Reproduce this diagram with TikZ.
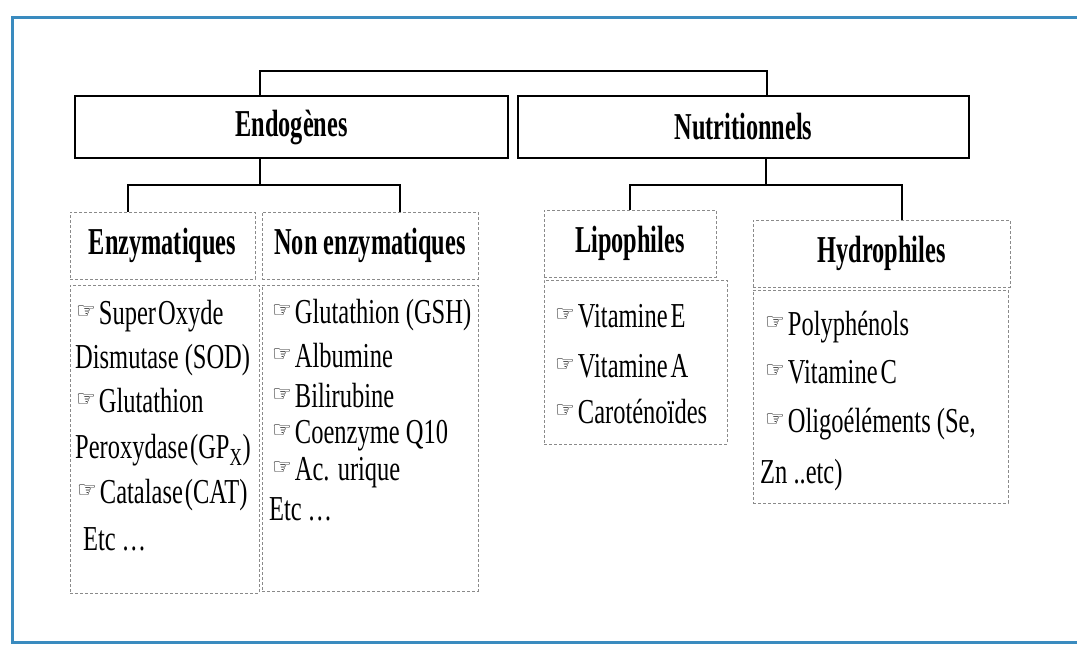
\documentclass[tikz,border=0pt]{standalone}
\usepackage{fontspec}
\setmainfont[FakeStretch=0.70]{Liberation Serif}
\newfontfamily\headfont[FakeStretch=0.64]{Liberation Serif}
\newfontfamily\handfont{DejaVu Sans}
\usetikzlibrary{positioning,calc}
\definecolor{framebl}{HTML}{3A8BBF}
\definecolor{dashgr}{HTML}{8A8A8A}
\newcommand{\itm}{\raisebox{6pt}{\handfont\bfseries\fontsize{22}{22}\selectfont ☞}\hspace{3pt}}
\tikzset{
	mainbox/.style={draw, line width=1.6pt, inner sep=0pt, minimum height=62pt,
		font=\headfont\bfseries\fontsize{38}{40}\selectfont},
	subhead/.style={draw=dashgr, densely dashed, line width=0.8pt, inner sep=0pt,
		minimum height=67pt, font=\headfont\bfseries\fontsize{38}{40}\selectfont},
	listbox/.style={draw=dashgr, densely dashed, line width=0.8pt, inner sep=0pt},
	item/.style={anchor=base west, inner sep=0pt, font=\fontsize{35}{44}\selectfont},
	link/.style={line width=1.3pt},
	frameline/.style={draw=framebl, line width=3pt}
}
\begin{document}
\begin{tikzpicture}[x=1pt, y=-1pt]
	\useasboundingbox (0,0) rectangle (1077,645);
	\draw[frameline] (1077,17) -| (12,642) -- (1077,642);
	
	% first level
	\node[mainbox, minimum width=433pt] (endo) at (291.5,127) {Endogènes};
	\node[mainbox, minimum width=451pt] (nutri) at (743.5,127) {Nutritionnels};
	
	% second level, headers
	\node[subhead, minimum width=185pt] (enzh) at (162.5,245.5) {Enzymatiques};
	\node[subhead, minimum width=216pt] (nenzh) at (370,245.5) {Non enzymatiques};
	\node[subhead, minimum width=172pt] (liph) at (630,243.5) {Lipophiles};
	\node[subhead, minimum width=257pt] (hydh) at (881.5,253.5) {Hydrophiles};
	
	% second level, lists
	\node[listbox, minimum width=189pt, minimum height=308pt] (enzl) at (164.5,439) {};
	\node[listbox, minimum width=216pt, minimum height=306pt] (nenzl) at (370,438) {};
	\node[listbox, minimum width=183pt, minimum height=164pt] (lipl) at (635.5,362) {};
	\node[listbox, minimum width=255pt, minimum height=213pt] (hydl) at (880.5,396.5) {};
	
	\foreach \x/\y/\t [count=\i] in {76/324/{\itm Super\hspace{2pt}Oxyde}, 75/368/{Dismutase (SOD)},
		76/412/{\itm Glutathion}, 75/458/{Peroxydase\hspace{2pt}(GP\textsubscript{X})},
		77/503/{\itm Catalase\hspace{2pt}(CAT)}, 83/550/{Etc\,\ldots}}
	\node[item] (enz\i) at (\x,\y) {\t};
	
	\foreach \x/\y/\t [count=\i] in {272/323/{\itm Glutathion (GSH)}, 272/367/{\itm Albumine},
		272/407/{\itm Bilirubine}, 272/443/{\itm Coenzyme Q10},
		272/480/{\itm Ac. urique}, 269/520/{Etc\,\ldots}}
	\node[item] (nenz\i) at (\x,\y) {\t};
	
	\foreach \x/\y/\t [count=\i] in {555/327/{\itm Vitamine\hspace{3pt}E}, 555/377/{\itm Vitamine\hspace{3pt}A},
		555/423/{\itm Caroténoïdes}}
	\node[item] (lip\i) at (\x,\y) {\t};
	
	\foreach \x/\y/\t [count=\i] in {765/335/{\itm Polyphénols}, 765/383/{\itm Vitamine\hspace{3pt}C},
		765/432/{\itm Oligoéléments (Se,}, 760/483/{Zn ..etc)}}
	\node[item] (hyd\i) at (\x,\y) {\t};
	
	% connectors
	\coordinate (topl) at (260,71);
	\coordinate (topr) at (767,71);
	\draw[link] (endo.north -| topl) -- (topl) -- (topr) -- (nutri.north -| topr);
	\draw[line width=2.4pt] (endo.north -| topl) -- ++(0,-22);
	\draw[line width=2.4pt] (nutri.north -| topr) -- ++(0,-22);
	
	\coordinate (endoj) at (260,185);
	\coordinate (enzj) at (128,185);
	\coordinate (nenzj) at (400,185);
	\draw[link] (endo.south -| endoj) -- (endoj);
	\draw[link] (enzh.north -| enzj) -- (enzj) -- (nenzj) -- (nenzh.north -| nenzj);
	
	\coordinate (nutj) at (766,185);
	\coordinate (lipj) at (630,185);
	\coordinate (hydj) at (902,185);
	\draw[link] (nutri.south -| nutj) -- (nutj);
	\draw[link] (liph.north -| lipj) -- (lipj) -- (hydj) -- (hydh.north -| hydj);
\end{tikzpicture}
\end{document}
